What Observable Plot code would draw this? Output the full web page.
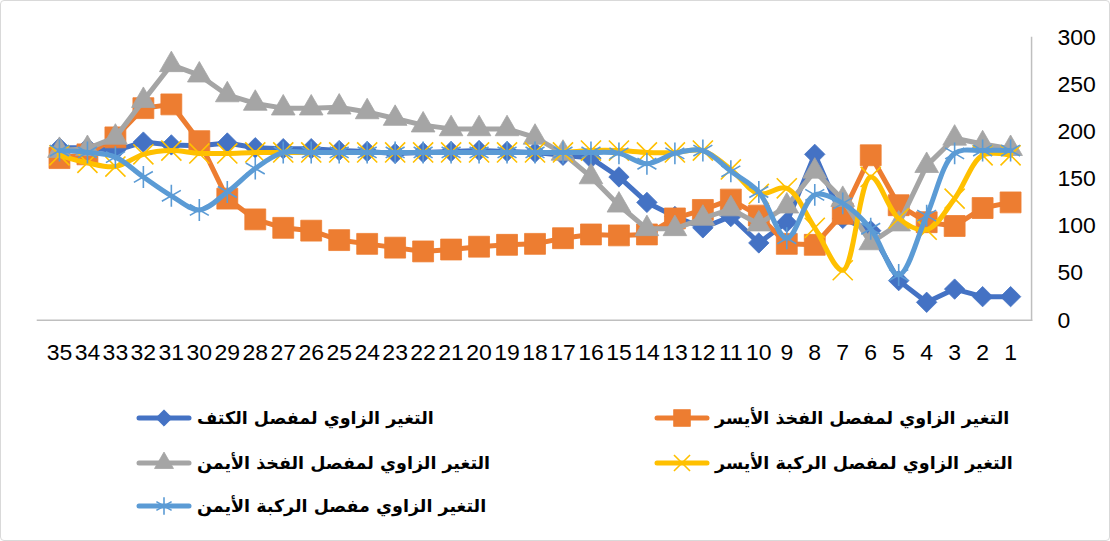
<!DOCTYPE html>
<html>
<head>
<meta charset="utf-8">
<script src="https://cdn.jsdelivr.net/npm/d3@7"></script>
<script src="https://cdn.jsdelivr.net/npm/@observablehq/plot@0.6"></script>
<style>
  html, body { margin: 0; padding: 0; background: #fff; }
  #chart {
    position: relative; width: 1108px; height: 539px;
    border: 1px solid #D9D9D9; border-radius: 4px; overflow: hidden;
    font-family: "Liberation Sans", Arial, sans-serif;
  }
  #plot { position: absolute; left: -1px; top: -1px; }
  .item { position: absolute; display: flex; align-items: center; height: 30px; }
  .item svg { display: block; }
  .item span {
    font-family: "DejaVu Sans", sans-serif; font-weight: bold; font-size: 17.5px;
    direction: rtl; white-space: nowrap; color: #000; margin-left: 4px;
  }
</style>
</head>
<body>
<div id="chart">
  <div id="plot"></div>
  <div id="legend"></div>
</div>
<script>
// Frame numbers (1 = rightmost on the axis)
const categories = d3.range(1, 36);

// Y-axis ticks (degrees)
const yTicks = [0, 50, 100, 150, 200, 250, 300];

// Angular change per frame, listed from frame 1 to frame 35
const shoulder = [25, 25, 33, 19, 42, 95, 108, 176, 104, 82, 110, 98, 110, 125, 152, 172, 175, 178, 179, 180,
  179, 178, 177, 179, 180, 182, 182, 183, 188, 185, 186, 189, 180, 183, 183];
const leftHip = [125, 119, 100, 104, 122, 175, 113, 80, 81, 111, 128, 117, 108, 91, 90, 91, 87, 81, 80, 78,
  75, 73, 77, 81, 85, 95, 98, 107, 129, 190, 229, 225, 194, 176, 172];
const rightHip = [182, 187, 193, 164, 102, 82, 128, 158, 121, 102, 118, 108, 97, 97, 122, 152, 177, 194, 203, 203,
  203, 207, 214, 221, 226, 225, 225, 230, 239, 260, 271, 233, 194, 182, 180];
const leftKnee = [175, 175, 129, 96, 108, 152, 53, 98, 140, 134, 160, 180, 178, 178, 180, 180, 178, 178, 178, 178,
  178, 178, 178, 178, 178, 178, 178, 178, 177, 177, 180, 176, 163, 167, 175];
const rightKnee = [180, 180, 177, 111, 48, 97, 124, 133, 87, 136, 158, 180, 177, 166, 177, 178, 178, 178, 178, 178,
  178, 178, 178, 178, 178, 178, 178, 161, 136, 117, 132, 152, 173, 178, 180];

// Series names as shown in the legend
const names = [
  "التغير الزاوي لمفصل الكتف",
  "التغير الزاوي لمفصل الفخذ الأيسر",
  "التغير الزاوي لمفصل الفخذ الأيمن",
  "التغير الزاوي لمفصل الركبة الأيسر",
  "التغير الزاوي مفصل الركبة الأيمن"
];

// Drawing styles per series
const series = [
  {name: names[0], values: shoulder,  color: "#4472C4", symbol: "diamond2", r: 9.2,  filled: true,  curve: "linear",      leg: {col: 0, row: 0}},
  {name: names[1], values: leftHip,   color: "#ED7D31", symbol: "square",   r: 11.8, filled: true,  curve: "linear",      leg: {col: 1, row: 0}},
  {name: names[2], values: rightHip,  color: "#A5A5A5", symbol: "triangle", r: 8.8,  filled: true,  curve: "linear",      leg: {col: 0, row: 1}},
  {name: names[3], values: leftKnee,  color: "#FFC000", symbol: "times",    r: 9.2,  filled: false, curve: "catmull-rom", leg: {col: 1, row: 1}},
  {name: names[4], values: rightKnee, color: "#5B9BD5", symbol: "asterisk", r: 10.4, filled: false, curve: "catmull-rom", leg: {col: 0, row: 2}}
];

const seriesMarks = [];
for (const s of series) {
  const rows = categories.map((c, j) => ({frame: c, value: s.values[j]}));
  seriesMarks.push(Plot.line(rows, {
    x: "frame", y: "value", stroke: s.color, strokeWidth: 5,
    curve: s.curve, strokeLinecap: "round", strokeLinejoin: "round"
  }));
  seriesMarks.push(Plot.dot(rows, {
    x: "frame", y: "value", symbol: s.symbol, r: s.r,
    fill: s.filled ? s.color : "none",
    stroke: s.color, strokeWidth: s.filled ? 0.8 : 1.6
  }));
}

const plot = Plot.plot({
  width: 1110,
  height: 380,
  marginLeft: 37,
  marginRight: 78,
  marginTop: 37,
  marginBottom: 60,
  style: {fontFamily: "'Liberation Sans', Arial, sans-serif", fontSize: "22px", color: "#000", background: "transparent"},
  x: {type: "point", domain: [...categories].reverse(), padding: 0.5, label: null},
  y: {domain: [0, 300], label: null},
  marks: [
    Plot.frame({anchor: "bottom", stroke: "#BFBFBF", strokeWidth: 1.5}),
    Plot.frame({anchor: "right", stroke: "#BFBFBF", strokeWidth: 1.5}),
    Plot.axisX({tickSize: 0, tickPadding: 23, fontSize: 23, label: null}),
    Plot.axisY({anchor: "right", ticks: yTicks, tickSize: 0, tickPadding: 26, fontSize: 23, label: null}),
    ...seriesMarks
  ]
});
document.getElementById("plot").appendChild(plot);

// Legend: two columns, swatch to the left of right-to-left text
const legend = document.getElementById("legend");
const colX = [134, 652];
const rowY = [417, 462, 505];
const symbolTypes = {
  diamond2: d3.symbolDiamond2, square: d3.symbolSquare, triangle: d3.symbolTriangle,
  times: d3.symbolTimes, asterisk: d3.symbolAsterisk
};
for (const s of series) {
  const item = document.createElement("div");
  item.className = "item";
  item.style.left = colX[s.leg.col] + "px";
  item.style.top = (rowY[s.leg.row] - 15) + "px";
  const sw = d3.create("svg").attr("width", 58).attr("height", 30);
  sw.append("line").attr("x1", 4).attr("x2", 54).attr("y1", 15).attr("y2", 15)
    .attr("stroke", s.color).attr("stroke-width", 5).attr("stroke-linecap", "round");
  const rr = s.r * 0.8;
  sw.append("path")
    .attr("transform", "translate(29,15)")
    .attr("d", d3.symbol(symbolTypes[s.symbol], rr * rr * Math.PI)())
    .attr("fill", s.filled ? s.color : "none")
    .attr("stroke", s.color).attr("stroke-width", s.filled ? 0.8 : 1.6);
  item.appendChild(sw.node());
  const label = document.createElement("span");
  label.textContent = s.name;
  item.appendChild(label);
  legend.appendChild(item);
}
</script>
</body>
</html>
